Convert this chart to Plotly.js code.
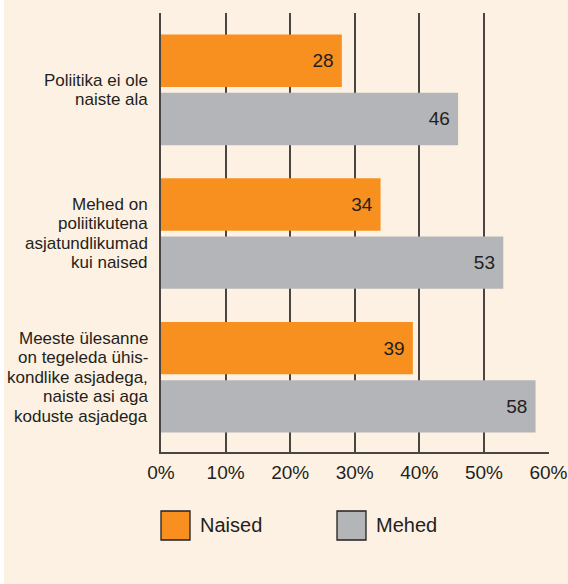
<!DOCTYPE html>
<html>
<head>
<meta charset="utf-8">
<script src="https://cdn.plot.ly/plotly-3.0.1.min.js"></script>
<style>
  html, body { margin: 0; padding: 0; background: #ffffff; }
  #chart { position: absolute; left: 0; top: 0; width: 568px; height: 584px; }
</style>
</head>
<body>
<div id="chart"></div>
<script>
// ---- data ----
const categories = [
  "Poliitika ei ole<br>naiste ala",
  "Mehed on<br>poliitikutena<br>asjatundlikumad<br>kui naised",
  "Meeste ülesanne<br>on tegeleda ühis-<br>kondlike asjadega,<br>naiste asi aga<br>koduste asjadega"
];
const seriesNames = ["Naised", "Mehed"];
const naised = [28, 34, 39];
const mehed = [46, 53, 58];
const xTickVals = [0, 10, 20, 30, 40, 50, 60];
const xTickText = ["0%", "10%", "20%", "30%", "40%", "50%", "60%"];

// ---- styles ----
const ORANGE = "#F7901E";
const GRAY = "#B4B5B8";
const INK = "#231F20";
const GRID = "#4A4442";
const BG = "#FDF1E3";
const LABEL_FONT = "Liberation Sans, Arial, Helvetica, sans-serif";
const MAIN_FONT = "Liberation Sans, Arial, Helvetica, sans-serif";

const traces = [
  {
    type: "bar", orientation: "h", name: seriesNames[0],
    y: categories, x: naised,
    marker: { color: ORANGE },
    text: naised.map(v => String(v)),
    texttemplate: "%{text}\u00A0",
    textposition: "inside", insidetextanchor: "end",
    textfont: { family: MAIN_FONT, size: 19, color: INK },
    hoverinfo: "x+y"
  },
  {
    type: "bar", orientation: "h", name: seriesNames[1],
    y: categories, x: mehed,
    marker: { color: GRAY },
    text: mehed.map(v => String(v)),
    texttemplate: "%{text}\u00A0",
    textposition: "inside", insidetextanchor: "end",
    textfont: { family: MAIN_FONT, size: 19, color: INK },
    hoverinfo: "x+y"
  }
];

// category labels, one annotation per line for tight line spacing
const annotations = [];
const LINE = 19.6;
categories.forEach((c, i) => {
  const lines = c.split("<br>");
  const n = lines.length;
  lines.forEach((ln, j) => {
    annotations.push({
      xref: "paper", yref: "y", x: 0, y: i,
      xanchor: "right", yanchor: "middle",
      xshift: -11, yshift: -((j - (n - 1) / 2) * LINE),
      text: ln, showarrow: false, align: "right",
      font: { family: LABEL_FONT, size: 17, color: INK }
    });
  });
});

// legend drawn with shapes + annotations (paper coords relative to plot area)
const plotW = 388, plotH = 439;
function px2x(px) { return (px - 161) / plotW; }
function py2y(py) { return (452 - py) / plotH; }
const legendColors = [ORANGE, GRAY];
const legendBoxX = [161, 337];
const shapes = [
  // thin white strip at the left edge of the picture
  { type: "rect", xref: "paper", yref: "paper", layer: "below",
    x0: px2x(0), x1: px2x(4), y0: py2y(600), y1: py2y(-10),
    fillcolor: "#ffffff", line: { width: 0 } }
];
seriesNames.forEach((nm, k) => {
  shapes.push({
    type: "rect", xref: "paper", yref: "paper",
    x0: px2x(legendBoxX[k]), x1: px2x(legendBoxX[k] + 29),
    y0: py2y(540), y1: py2y(511),
    fillcolor: legendColors[k], line: { color: INK, width: 1.3 }
  });
  annotations.push({
    xref: "paper", yref: "paper",
    x: px2x(legendBoxX[k] + 37), y: py2y(525),
    xanchor: "left", yanchor: "middle",
    text: nm, showarrow: false,
    font: { family: MAIN_FONT, size: 20, color: INK }
  });
});

const layout = {
  width: 568, height: 584,
  paper_bgcolor: BG, plot_bgcolor: BG,
  margin: { l: 161, r: 19, t: 13, b: 132, pad: 0 },
  showlegend: false,
  barmode: "group", bargap: 0.19, bargroupgap: 0.1,
  xaxis: {
    range: [0, 60.08], tickvals: xTickVals, ticktext: xTickText,
    showgrid: true, gridcolor: GRID, gridwidth: 2,
    zeroline: false, showline: true, linecolor: GRID, linewidth: 2,
    ticks: "", ticklabelstandoff: 2, ticklabeloverflow: "allow",
    tickfont: { family: MAIN_FONT, size: 19, color: INK },
    fixedrange: true
  },
  yaxis: {
    type: "category", categoryorder: "array", categoryarray: categories,
    range: [2.52, -0.535],
    showgrid: false, zeroline: false, showticklabels: false, ticks: "",
    showline: true, linecolor: GRID, linewidth: 2,
    fixedrange: true
  },
  annotations: annotations,
  shapes: shapes,
  font: { family: MAIN_FONT, color: INK }
};

Plotly.newPlot("chart", traces, layout, { displayModeBar: false, staticPlot: true });
</script>
</body>
</html>
